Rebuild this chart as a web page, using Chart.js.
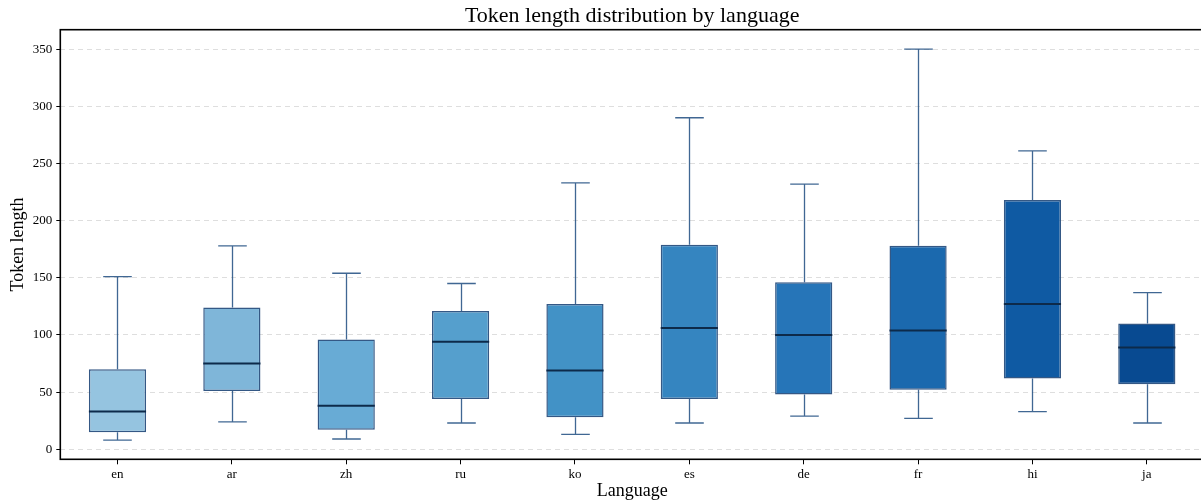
<!DOCTYPE html>
<html>
<head>
<meta charset="utf-8">
<script src="https://cdn.jsdelivr.net/npm/chart.js@4"></script>
<style>
  body { margin: 0; overflow: hidden; background: #fff; }
  #wrap { width: 1204px; height: 504px; }
</style>
</head>
<body>
<div id="wrap"><canvas id="myChart"></canvas></div>
<script>
const languages = ["en", "ar", "zh", "ru", "ko", "es", "de", "fr", "hi", "ja"];
const whiskerLow = [8, 24, 9, 23, 13, 23, 29, 27, 33, 23];
const q1 = [15, 51, 17, 44, 28, 44, 48, 52, 62, 57];
const medians = [33, 75, 38, 94, 69, 106, 100, 104, 127, 89];
const q3 = [70, 124, 96, 121, 127, 179, 146, 178, 218, 110];
const whiskerHigh = [151, 178, 154, 145, 233, 290, 232, 350, 261, 137];
const boxColors = ["#95c4e0", "#7fb6d9", "#68abd5", "#559fcd", "#4292c6", "#3585c0", "#2675b8", "#1b69ae", "#0f5aa3", "#084a91"];
const yTicks = [0, 50, 100, 150, 200, 250, 300, 350];

const serif = "'Liberation Serif', 'DejaVu Serif', serif";

// whiskers, caps, medians and the frame around the plot
const boxPlotExtras = {
  id: "boxPlotExtras",
  beforeDatasetsDraw(chart) {
    const ctx = chart.ctx;
    const x = chart.scales.x;
    const y = chart.scales.y;
    const bars = chart.getDatasetMeta(0).data;
    ctx.save();
    ctx.strokeStyle = "rgba(30, 76, 128, 0.85)";
    ctx.lineWidth = 1.3;
    languages.forEach((lang, i) => {
      const cx = Math.round(x.getPixelForValue(i)) + 0.5;
      const half = bars[i].width / 4;
      ctx.beginPath();
      ctx.moveTo(cx, y.getPixelForValue(q3[i]));
      ctx.lineTo(cx, y.getPixelForValue(whiskerHigh[i]));
      ctx.moveTo(cx, y.getPixelForValue(q1[i]));
      ctx.lineTo(cx, y.getPixelForValue(whiskerLow[i]));
      ctx.moveTo(cx - half, y.getPixelForValue(whiskerHigh[i]));
      ctx.lineTo(cx + half, y.getPixelForValue(whiskerHigh[i]));
      ctx.moveTo(cx - half, y.getPixelForValue(whiskerLow[i]));
      ctx.lineTo(cx + half, y.getPixelForValue(whiskerLow[i]));
      ctx.stroke();
    });
    ctx.restore();
  },
  afterDatasetsDraw(chart) {
    const ctx = chart.ctx;
    const x = chart.scales.x;
    const y = chart.scales.y;
    const bars = chart.getDatasetMeta(0).data;
    ctx.save();
    ctx.strokeStyle = "#0d2a4a";
    ctx.lineWidth = 2;
    languages.forEach((lang, i) => {
      const cx = x.getPixelForValue(i);
      const half = bars[i].width / 2;
      const my = y.getPixelForValue(medians[i]);
      ctx.beginPath();
      ctx.moveTo(cx - half, my);
      ctx.lineTo(cx + half, my);
      ctx.stroke();
    });
    const a = chart.chartArea;
    ctx.strokeStyle = "#000";
    ctx.lineWidth = 1.6;
    ctx.strokeRect(a.left, a.top, a.right - a.left, a.bottom - a.top);
    ctx.restore();
  }
};

let myChart = document.getElementById("myChart").getContext("2d");
myChart = new Chart(myChart, {
  type: "bar",
  data: {
    labels: languages,
    datasets: [
      {
        data: q1.map((v, i) => [v, q3[i]]),
        backgroundColor: boxColors,
        borderColor: "rgba(30, 70, 120, 0.9)",
        borderWidth: 1.5,
        borderSkipped: false,
        barPercentage: 0.5,
        categoryPercentage: 1
      }
    ]
  },
  options: {
    responsive: true,
    maintainAspectRatio: false,
    animation: false,
    layout: { padding: 0 },
    plugins: {
      legend: { display: false },
      tooltip: { enabled: false },
      title: {
        display: true,
        text: "Token length distribution by language",
        fullSize: false,
        color: "#000",
        font: { family: serif, size: 22, weight: "normal" },
        padding: { top: 3, bottom: 0.3 }
      }
    },
    scales: {
      x: {
        type: "category",
        offset: true,
        grid: { offset: false, drawOnChartArea: false, tickLength: 5, tickColor: "#000", tickWidth: 1 },
        border: { display: false },
        ticks: { color: "#000", padding: 2, font: { family: serif, size: 13 } },
        title: {
          display: true,
          text: "Language",
          color: "#000",
          font: { family: serif, size: 18 },
          padding: { top: 0, bottom: 2 }
        },
        afterFit: s => { s.height = 44.7; }
      },
      y: {
        min: -8.75,
        max: 367,
        afterBuildTicks: s => { s.ticks = yTicks.map(v => ({ value: v })); },
        grid: { color: "#dedede", lineWidth: 1, tickLength: 4, tickColor: "#000", tickWidth: 1, tickBorderDash: [] },
        border: { display: false, dash: [5, 4] },
        ticks: { color: "#000", padding: 4, font: { family: serif, size: 13 } },
        title: {
          display: true,
          text: "Token length",
          color: "#000",
          font: { family: serif, size: 18 },
          padding: { top: 7, bottom: 0 }
        },
        afterFit: s => { s.width = 60.3; }
      }
    }
  },
  plugins: [boxPlotExtras]
});
</script>
</body>
</html>
